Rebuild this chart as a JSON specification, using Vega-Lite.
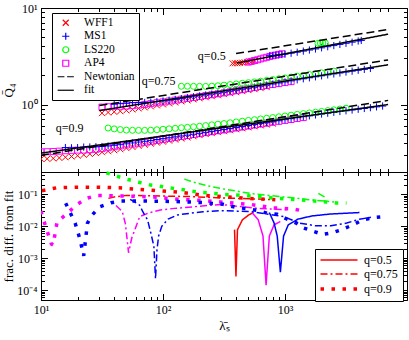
{
"$schema":"https://vega.github.io/schema/vega-lite/v6.json",
"autosize":"none",
"width":366,"height":292,
"padding":{"left":41,"top":8,"right":2,"bottom":40},
"background":"white",
"resolve":{"scale":{"y":"independent","color":"independent","strokeDash":"independent","shape":"independent"},"axis":{"x":"independent","y":"independent"},"legend":{"color":"independent","strokeDash":"independent","shape":"independent"}},
"config":{
 "view":{"stroke":"black","strokeWidth":1},
 "axis":{"grid":false,"domain":false,"tickColor":"black","tickSize":-3.5,"tickWidth":1,"labelFont":"Liberation Serif","labelFontSize":12,"labelColor":"black","titleFont":"Liberation Serif","titleFontSize":13,"titleFontWeight":"normal","titleColor":"black","labelFlush":false,"labelOverlap":false,"labelPadding":7.5}
},
"datasets":{
"pts":[
{"eos":"WFF1","q":"0.9","lam":10,"Q":0.2735},{"eos":"WFF1","q":"0.9","lam":11.22,"Q":0.2742},{"eos":"WFF1","q":"0.9","lam":12.59,"Q":0.2767},{"eos":"WFF1","q":"0.9","lam":14.13,"Q":0.28},{"eos":"WFF1","q":"0.9","lam":15.85,"Q":0.2844},{"eos":"WFF1","q":"0.9","lam":17.78,"Q":0.2897},{"eos":"WFF1","q":"0.9","lam":19.95,"Q":0.2951},{"eos":"WFF1","q":"0.9","lam":22.39,"Q":0.3013},{"eos":"WFF1","q":"0.9","lam":25.12,"Q":0.3076},{"eos":"WFF1","q":"0.9","lam":28.18,"Q":0.314},{"eos":"WFF1","q":"0.9","lam":31.62,"Q":0.3206},{"eos":"WFF1","q":"0.9","lam":35.48,"Q":0.3281},{"eos":"WFF1","q":"0.9","lam":39.81,"Q":0.3365},{"eos":"WFF1","q":"0.9","lam":44.67,"Q":0.3443},{"eos":"WFF1","q":"0.9","lam":50.12,"Q":0.354},{"eos":"WFF1","q":"0.9","lam":56.23,"Q":0.3631},{"eos":"WFF1","q":"0.9","lam":63.1,"Q":0.3733},{"eos":"WFF1","q":"0.9","lam":70.79,"Q":0.3828},{"eos":"WFF1","q":"0.9","lam":79.43,"Q":0.3926},{"eos":"WFF1","q":"0.9","lam":89.13,"Q":0.4027},{"eos":"WFF1","q":"0.9","lam":100,"Q":0.4121},{"eos":"WFF1","q":"0.9","lam":112.2,"Q":0.4227},{"eos":"WFF1","q":"0.9","lam":125.9,"Q":0.4335},{"eos":"WFF1","q":"0.9","lam":141.3,"Q":0.4446},{"eos":"WFF1","q":"0.9","lam":158.5,"Q":0.456},{"eos":"WFF1","q":"0.9","lam":177.8,"Q":0.4688},{"eos":"WFF1","q":"0.9","lam":199.5,"Q":0.482},{"eos":"WFF1","q":"0.9","lam":223.9,"Q":0.4943},{"eos":"WFF1","q":"0.9","lam":251.2,"Q":0.5058},{"eos":"WFF1","q":"0.9","lam":281.8,"Q":0.5176},{"eos":"WFF1","q":"0.9","lam":316.2,"Q":0.5297},{"eos":"WFF1","q":"0.9","lam":354.8,"Q":0.542},{"eos":"WFF1","q":"0.9","lam":398.1,"Q":0.5546},{"eos":"WFF1","q":"0.9","lam":446.7,"Q":0.5675},{"eos":"WFF1","q":"0.9","lam":501.2,"Q":0.5808},{"eos":"WFF1","q":"0.9","lam":562.3,"Q":0.5943},{"eos":"WFF1","q":"0.9","lam":631,"Q":0.6081},{"eos":"WFF1","q":"0.9","lam":707.9,"Q":0.62},{"eos":"WFF1","q":"0.9","lam":794.3,"Q":0.6339},
{"eos":"AP4","q":"0.9","lam":10,"Q":0.3236},{"eos":"AP4","q":"0.9","lam":11.22,"Q":0.3243},{"eos":"AP4","q":"0.9","lam":12.59,"Q":0.3258},{"eos":"AP4","q":"0.9","lam":14.13,"Q":0.3289},{"eos":"AP4","q":"0.9","lam":15.85,"Q":0.3323},{"eos":"AP4","q":"0.9","lam":17.78,"Q":0.3354},{"eos":"AP4","q":"0.9","lam":19.95,"Q":0.3373},{"eos":"AP4","q":"0.9","lam":22.39,"Q":0.3373},{"eos":"AP4","q":"0.9","lam":25.12,"Q":0.3404},{"eos":"AP4","q":"0.9","lam":28.18,"Q":0.3436},{"eos":"AP4","q":"0.9","lam":31.62,"Q":0.3491},{"eos":"AP4","q":"0.9","lam":35.48,"Q":0.3565},{"eos":"AP4","q":"0.9","lam":39.81,"Q":0.3648},{"eos":"AP4","q":"0.9","lam":44.67,"Q":0.3724},{"eos":"AP4","q":"0.9","lam":50.12,"Q":0.3806},{"eos":"AP4","q":"0.9","lam":56.23,"Q":0.389},{"eos":"AP4","q":"0.9","lam":63.1,"Q":0.3976},{"eos":"AP4","q":"0.9","lam":70.79,"Q":0.4058},{"eos":"AP4","q":"0.9","lam":79.43,"Q":0.4153},{"eos":"AP4","q":"0.9","lam":89.13,"Q":0.4249},{"eos":"AP4","q":"0.9","lam":100,"Q":0.4352},{"eos":"AP4","q":"0.9","lam":112.2,"Q":0.4457},{"eos":"AP4","q":"0.9","lam":125.9,"Q":0.4565},{"eos":"AP4","q":"0.9","lam":141.3,"Q":0.4671},{"eos":"AP4","q":"0.9","lam":158.5,"Q":0.4768},{"eos":"AP4","q":"0.9","lam":177.8,"Q":0.4878},{"eos":"AP4","q":"0.9","lam":199.5,"Q":0.4986},{"eos":"AP4","q":"0.9","lam":223.9,"Q":0.5107},{"eos":"AP4","q":"0.9","lam":251.2,"Q":0.5225},{"eos":"AP4","q":"0.9","lam":281.8,"Q":0.5346},{"eos":"AP4","q":"0.9","lam":316.2,"Q":0.5458},{"eos":"AP4","q":"0.9","lam":354.8,"Q":0.5583},{"eos":"AP4","q":"0.9","lam":398.1,"Q":0.5712},{"eos":"AP4","q":"0.9","lam":446.7,"Q":0.5844},{"eos":"AP4","q":"0.9","lam":501.2,"Q":0.5986},{"eos":"AP4","q":"0.9","lam":562.3,"Q":0.6129},{"eos":"AP4","q":"0.9","lam":631,"Q":0.6278},{"eos":"AP4","q":"0.9","lam":707.9,"Q":0.6408},{"eos":"AP4","q":"0.9","lam":794.3,"Q":0.6556},{"eos":"AP4","q":"0.9","lam":891.3,"Q":0.6699},{"eos":"AP4","q":"0.9","lam":1000,"Q":0.6847},{"eos":"AP4","q":"0.9","lam":1122,"Q":0.6998},{"eos":"AP4","q":"0.9","lam":1259,"Q":0.7159},{"eos":"AP4","q":"0.9","lam":1413,"Q":0.7324},
{"eos":"MS1","q":"0.9","lam":15.85,"Q":0.3584},{"eos":"MS1","q":"0.9","lam":17.78,"Q":0.3562},{"eos":"MS1","q":"0.9","lam":19.95,"Q":0.3577},{"eos":"MS1","q":"0.9","lam":22.39,"Q":0.3622},{"eos":"MS1","q":"0.9","lam":25.12,"Q":0.3632},{"eos":"MS1","q":"0.9","lam":28.18,"Q":0.3651},{"eos":"MS1","q":"0.9","lam":31.62,"Q":0.3673},{"eos":"MS1","q":"0.9","lam":35.48,"Q":0.3722},{"eos":"MS1","q":"0.9","lam":39.81,"Q":0.378},{"eos":"MS1","q":"0.9","lam":44.67,"Q":0.3839},{"eos":"MS1","q":"0.9","lam":50.12,"Q":0.3919},{"eos":"MS1","q":"0.9","lam":56.23,"Q":0.4001},{"eos":"MS1","q":"0.9","lam":63.1,"Q":0.4085},{"eos":"MS1","q":"0.9","lam":70.79,"Q":0.416},{"eos":"MS1","q":"0.9","lam":79.43,"Q":0.4248},{"eos":"MS1","q":"0.9","lam":89.13,"Q":0.4342},{"eos":"MS1","q":"0.9","lam":100,"Q":0.4433},{"eos":"MS1","q":"0.9","lam":112.2,"Q":0.453},{"eos":"MS1","q":"0.9","lam":125.9,"Q":0.4625},{"eos":"MS1","q":"0.9","lam":141.3,"Q":0.4727},{"eos":"MS1","q":"0.9","lam":158.5,"Q":0.4819},{"eos":"MS1","q":"0.9","lam":177.8,"Q":0.4926},{"eos":"MS1","q":"0.9","lam":199.5,"Q":0.5035},{"eos":"MS1","q":"0.9","lam":223.9,"Q":0.5151},{"eos":"MS1","q":"0.9","lam":251.2,"Q":0.527},{"eos":"MS1","q":"0.9","lam":281.8,"Q":0.5391},{"eos":"MS1","q":"0.9","lam":316.2,"Q":0.5502},{"eos":"MS1","q":"0.9","lam":354.8,"Q":0.5641},{"eos":"MS1","q":"0.9","lam":398.1,"Q":0.5789},{"eos":"MS1","q":"0.9","lam":446.7,"Q":0.5922},{"eos":"MS1","q":"0.9","lam":501.2,"Q":0.6059},{"eos":"MS1","q":"0.9","lam":562.3,"Q":0.6199},{"eos":"MS1","q":"0.9","lam":631,"Q":0.6349},{"eos":"MS1","q":"0.9","lam":707.9,"Q":0.6494},{"eos":"MS1","q":"0.9","lam":794.3,"Q":0.6637},{"eos":"MS1","q":"0.9","lam":891.3,"Q":0.6789},{"eos":"MS1","q":"0.9","lam":1000,"Q":0.6967},{"eos":"MS1","q":"0.9","lam":1122,"Q":0.7134},{"eos":"MS1","q":"0.9","lam":1259,"Q":0.7307},{"eos":"MS1","q":"0.9","lam":1413,"Q":0.7482},{"eos":"MS1","q":"0.9","lam":1585,"Q":0.7632},{"eos":"MS1","q":"0.9","lam":1778,"Q":0.7801},{"eos":"MS1","q":"0.9","lam":1995,"Q":0.7969},{"eos":"MS1","q":"0.9","lam":2239,"Q":0.8134},{"eos":"MS1","q":"0.9","lam":2512,"Q":0.8301},{"eos":"MS1","q":"0.9","lam":2818,"Q":0.8466},{"eos":"MS1","q":"0.9","lam":3162,"Q":0.8611},{"eos":"MS1","q":"0.9","lam":3548,"Q":0.8774},{"eos":"MS1","q":"0.9","lam":3981,"Q":0.8931},{"eos":"MS1","q":"0.9","lam":4467,"Q":0.9099},{"eos":"MS1","q":"0.9","lam":5012,"Q":0.927},{"eos":"MS1","q":"0.9","lam":5623,"Q":0.9456},{"eos":"MS1","q":"0.9","lam":6310,"Q":0.9643},
{"eos":"LS220","q":"0.9","lam":35.48,"Q":0.5711},{"eos":"LS220","q":"0.9","lam":39.81,"Q":0.5593},{"eos":"LS220","q":"0.9","lam":44.67,"Q":0.5505},{"eos":"LS220","q":"0.9","lam":50.12,"Q":0.543},{"eos":"LS220","q":"0.9","lam":56.23,"Q":0.5408},{"eos":"LS220","q":"0.9","lam":63.1,"Q":0.5399},{"eos":"LS220","q":"0.9","lam":70.79,"Q":0.5398},{"eos":"LS220","q":"0.9","lam":79.43,"Q":0.542},{"eos":"LS220","q":"0.9","lam":89.13,"Q":0.5478},{"eos":"LS220","q":"0.9","lam":100,"Q":0.5546},{"eos":"LS220","q":"0.9","lam":112.2,"Q":0.56},{"eos":"LS220","q":"0.9","lam":125.9,"Q":0.5668},{"eos":"LS220","q":"0.9","lam":141.3,"Q":0.5746},{"eos":"LS220","q":"0.9","lam":158.5,"Q":0.5802},{"eos":"LS220","q":"0.9","lam":177.8,"Q":0.5877},{"eos":"LS220","q":"0.9","lam":199.5,"Q":0.5952},{"eos":"LS220","q":"0.9","lam":223.9,"Q":0.6054},{"eos":"LS220","q":"0.9","lam":251.2,"Q":0.616},{"eos":"LS220","q":"0.9","lam":281.8,"Q":0.626},{"eos":"LS220","q":"0.9","lam":316.2,"Q":0.6353},{"eos":"LS220","q":"0.9","lam":354.8,"Q":0.6474},{"eos":"LS220","q":"0.9","lam":398.1,"Q":0.6598},{"eos":"LS220","q":"0.9","lam":446.7,"Q":0.6723},{"eos":"LS220","q":"0.9","lam":501.2,"Q":0.6845},{"eos":"LS220","q":"0.9","lam":562.3,"Q":0.6969},{"eos":"LS220","q":"0.9","lam":631,"Q":0.7096},{"eos":"LS220","q":"0.9","lam":707.9,"Q":0.7215},{"eos":"LS220","q":"0.9","lam":794.3,"Q":0.7332},{"eos":"LS220","q":"0.9","lam":891.3,"Q":0.7472},{"eos":"LS220","q":"0.9","lam":1000,"Q":0.7614},{"eos":"LS220","q":"0.9","lam":1122,"Q":0.7759},{"eos":"LS220","q":"0.9","lam":1259,"Q":0.7907},{"eos":"LS220","q":"0.9","lam":1413,"Q":0.805},{"eos":"LS220","q":"0.9","lam":1585,"Q":0.8185},{"eos":"LS220","q":"0.9","lam":1778,"Q":0.8331},{"eos":"LS220","q":"0.9","lam":1995,"Q":0.8489},{"eos":"LS220","q":"0.9","lam":2239,"Q":0.8651},{"eos":"LS220","q":"0.9","lam":2512,"Q":0.8816},{"eos":"LS220","q":"0.9","lam":2818,"Q":0.8991},{"eos":"LS220","q":"0.9","lam":3162,"Q":0.9157},
{"eos":"WFF1","q":"0.75","lam":31.62,"Q":0.8145},{"eos":"WFF1","q":"0.75","lam":35.48,"Q":0.8279},{"eos":"WFF1","q":"0.75","lam":39.81,"Q":0.84},{"eos":"WFF1","q":"0.75","lam":44.67,"Q":0.8529},{"eos":"WFF1","q":"0.75","lam":50.12,"Q":0.87},{"eos":"WFF1","q":"0.75","lam":56.23,"Q":0.8902},{"eos":"WFF1","q":"0.75","lam":63.1,"Q":0.911},{"eos":"WFF1","q":"0.75","lam":70.79,"Q":0.933},{"eos":"WFF1","q":"0.75","lam":79.43,"Q":0.957},{"eos":"WFF1","q":"0.75","lam":89.13,"Q":0.9793},{"eos":"WFF1","q":"0.75","lam":100,"Q":1.0032},{"eos":"WFF1","q":"0.75","lam":112.2,"Q":1.0278},{"eos":"WFF1","q":"0.75","lam":125.9,"Q":1.0517},{"eos":"WFF1","q":"0.75","lam":141.3,"Q":1.0787},{"eos":"WFF1","q":"0.75","lam":158.5,"Q":1.1038},{"eos":"WFF1","q":"0.75","lam":177.8,"Q":1.1305},{"eos":"WFF1","q":"0.75","lam":199.5,"Q":1.1592},{"eos":"WFF1","q":"0.75","lam":223.9,"Q":1.1889},{"eos":"WFF1","q":"0.75","lam":251.2,"Q":1.2185},{"eos":"WFF1","q":"0.75","lam":281.8,"Q":1.2489},{"eos":"WFF1","q":"0.75","lam":316.2,"Q":1.2795},{"eos":"WFF1","q":"0.75","lam":354.8,"Q":1.3108},{"eos":"WFF1","q":"0.75","lam":398.1,"Q":1.3428},{"eos":"WFF1","q":"0.75","lam":446.7,"Q":1.3754},{"eos":"WFF1","q":"0.75","lam":501.2,"Q":1.4093},{"eos":"WFF1","q":"0.75","lam":562.3,"Q":1.4434},{"eos":"WFF1","q":"0.75","lam":631,"Q":1.4786},{"eos":"WFF1","q":"0.75","lam":707.9,"Q":1.5148},
{"eos":"AP4","q":"0.75","lam":31.62,"Q":0.9404},{"eos":"AP4","q":"0.75","lam":35.48,"Q":0.9489},{"eos":"AP4","q":"0.75","lam":39.81,"Q":0.9572},{"eos":"AP4","q":"0.75","lam":44.67,"Q":0.9607},{"eos":"AP4","q":"0.75","lam":50.12,"Q":0.964},{"eos":"AP4","q":"0.75","lam":56.23,"Q":0.9736},{"eos":"AP4","q":"0.75","lam":63.1,"Q":0.9842},{"eos":"AP4","q":"0.75","lam":70.79,"Q":1.0021},{"eos":"AP4","q":"0.75","lam":79.43,"Q":1.0224},{"eos":"AP4","q":"0.75","lam":89.13,"Q":1.0428},{"eos":"AP4","q":"0.75","lam":100,"Q":1.0649},{"eos":"AP4","q":"0.75","lam":112.2,"Q":1.0874},{"eos":"AP4","q":"0.75","lam":125.9,"Q":1.1104},{"eos":"AP4","q":"0.75","lam":141.3,"Q":1.1353},{"eos":"AP4","q":"0.75","lam":158.5,"Q":1.1593},{"eos":"AP4","q":"0.75","lam":177.8,"Q":1.1849},{"eos":"AP4","q":"0.75","lam":199.5,"Q":1.21},{"eos":"AP4","q":"0.75","lam":223.9,"Q":1.2367},{"eos":"AP4","q":"0.75","lam":251.2,"Q":1.2629},{"eos":"AP4","q":"0.75","lam":281.8,"Q":1.2912},{"eos":"AP4","q":"0.75","lam":316.2,"Q":1.3197},{"eos":"AP4","q":"0.75","lam":354.8,"Q":1.3532},{"eos":"AP4","q":"0.75","lam":398.1,"Q":1.3875},{"eos":"AP4","q":"0.75","lam":446.7,"Q":1.423},{"eos":"AP4","q":"0.75","lam":501.2,"Q":1.4592},{"eos":"AP4","q":"0.75","lam":562.3,"Q":1.4977},{"eos":"AP4","q":"0.75","lam":631,"Q":1.5346},{"eos":"AP4","q":"0.75","lam":707.9,"Q":1.5718},{"eos":"AP4","q":"0.75","lam":794.3,"Q":1.6102},{"eos":"AP4","q":"0.75","lam":891.3,"Q":1.6477},{"eos":"AP4","q":"0.75","lam":1000,"Q":1.6876},{"eos":"AP4","q":"0.75","lam":1122,"Q":1.7269},
{"eos":"MS1","q":"0.75","lam":39.81,"Q":1.0076},{"eos":"MS1","q":"0.75","lam":44.67,"Q":1.0217},{"eos":"MS1","q":"0.75","lam":50.12,"Q":1.0311},{"eos":"MS1","q":"0.75","lam":56.23,"Q":1.0454},{"eos":"MS1","q":"0.75","lam":63.1,"Q":1.0495},{"eos":"MS1","q":"0.75","lam":70.79,"Q":1.0503},{"eos":"MS1","q":"0.75","lam":79.43,"Q":1.058},{"eos":"MS1","q":"0.75","lam":89.13,"Q":1.073},{"eos":"MS1","q":"0.75","lam":100,"Q":1.0869},{"eos":"MS1","q":"0.75","lam":112.2,"Q":1.1079},{"eos":"MS1","q":"0.75","lam":125.9,"Q":1.129},{"eos":"MS1","q":"0.75","lam":141.3,"Q":1.1516},{"eos":"MS1","q":"0.75","lam":158.5,"Q":1.1773},{"eos":"MS1","q":"0.75","lam":177.8,"Q":1.2023},{"eos":"MS1","q":"0.75","lam":199.5,"Q":1.2292},{"eos":"MS1","q":"0.75","lam":223.9,"Q":1.2564},{"eos":"MS1","q":"0.75","lam":251.2,"Q":1.2844},{"eos":"MS1","q":"0.75","lam":281.8,"Q":1.3127},{"eos":"MS1","q":"0.75","lam":316.2,"Q":1.3432},{"eos":"MS1","q":"0.75","lam":354.8,"Q":1.376},{"eos":"MS1","q":"0.75","lam":398.1,"Q":1.408},{"eos":"MS1","q":"0.75","lam":446.7,"Q":1.4424},{"eos":"MS1","q":"0.75","lam":501.2,"Q":1.476},{"eos":"MS1","q":"0.75","lam":562.3,"Q":1.5121},{"eos":"MS1","q":"0.75","lam":631,"Q":1.5505},{"eos":"MS1","q":"0.75","lam":707.9,"Q":1.5895},{"eos":"MS1","q":"0.75","lam":794.3,"Q":1.6298},{"eos":"MS1","q":"0.75","lam":891.3,"Q":1.6712},{"eos":"MS1","q":"0.75","lam":1000,"Q":1.714},{"eos":"MS1","q":"0.75","lam":1122,"Q":1.7575},{"eos":"MS1","q":"0.75","lam":1259,"Q":1.8037},{"eos":"MS1","q":"0.75","lam":1413,"Q":1.8479},{"eos":"MS1","q":"0.75","lam":1585,"Q":1.8927},{"eos":"MS1","q":"0.75","lam":1778,"Q":1.9377},{"eos":"MS1","q":"0.75","lam":1995,"Q":1.9828},{"eos":"MS1","q":"0.75","lam":2239,"Q":2.029},{"eos":"MS1","q":"0.75","lam":2512,"Q":2.0753},{"eos":"MS1","q":"0.75","lam":2818,"Q":2.1217},{"eos":"MS1","q":"0.75","lam":3162,"Q":2.1691},{"eos":"MS1","q":"0.75","lam":3548,"Q":2.216},{"eos":"MS1","q":"0.75","lam":3981,"Q":2.264},{"eos":"MS1","q":"0.75","lam":4467,"Q":2.3121},{"eos":"MS1","q":"0.75","lam":5012,"Q":2.3637},
{"eos":"LS220","q":"0.75","lam":141.3,"Q":1.5461},{"eos":"LS220","q":"0.75","lam":158.5,"Q":1.5457},{"eos":"LS220","q":"0.75","lam":177.8,"Q":1.5447},{"eos":"LS220","q":"0.75","lam":199.5,"Q":1.5429},{"eos":"LS220","q":"0.75","lam":223.9,"Q":1.5397},{"eos":"LS220","q":"0.75","lam":251.2,"Q":1.5493},{"eos":"LS220","q":"0.75","lam":281.8,"Q":1.5651},{"eos":"LS220","q":"0.75","lam":316.2,"Q":1.5876},{"eos":"LS220","q":"0.75","lam":354.8,"Q":1.6104},{"eos":"LS220","q":"0.75","lam":398.1,"Q":1.6336},{"eos":"LS220","q":"0.75","lam":446.7,"Q":1.6596},{"eos":"LS220","q":"0.75","lam":501.2,"Q":1.6845},{"eos":"LS220","q":"0.75","lam":562.3,"Q":1.7142},{"eos":"LS220","q":"0.75","lam":631,"Q":1.7461},{"eos":"LS220","q":"0.75","lam":707.9,"Q":1.7802},{"eos":"LS220","q":"0.75","lam":794.3,"Q":1.8133},{"eos":"LS220","q":"0.75","lam":891.3,"Q":1.8487},{"eos":"LS220","q":"0.75","lam":1000,"Q":1.8866},{"eos":"LS220","q":"0.75","lam":1122,"Q":1.9252},{"eos":"LS220","q":"0.75","lam":1259,"Q":1.9646},{"eos":"LS220","q":"0.75","lam":1413,"Q":2.003},{"eos":"LS220","q":"0.75","lam":1585,"Q":2.044},{"eos":"LS220","q":"0.75","lam":1778,"Q":2.0863},{"eos":"LS220","q":"0.75","lam":1995,"Q":2.13},{"eos":"LS220","q":"0.75","lam":2239,"Q":2.1736},{"eos":"LS220","q":"0.75","lam":2512,"Q":2.2201},
{"eos":"WFF1","q":"0.5","lam":371.5,"Q":2.672},{"eos":"WFF1","q":"0.5","lam":389,"Q":2.68},{"eos":"WFF1","q":"0.5","lam":407.4,"Q":2.678},{"eos":"WFF1","q":"0.5","lam":426.6,"Q":2.694},{"eos":"WFF1","q":"0.5","lam":446.7,"Q":2.716},{"eos":"WFF1","q":"0.5","lam":467.7,"Q":2.738},{"eos":"WFF1","q":"0.5","lam":489.8,"Q":2.76},{"eos":"WFF1","q":"0.5","lam":512.9,"Q":2.785},{"eos":"WFF1","q":"0.5","lam":537,"Q":2.811},{"eos":"WFF1","q":"0.5","lam":562.3,"Q":2.838},
{"eos":"AP4","q":"0.5","lam":501.2,"Q":2.753},{"eos":"AP4","q":"0.5","lam":530.9,"Q":2.799},{"eos":"AP4","q":"0.5","lam":562.3,"Q":2.856},{"eos":"AP4","q":"0.5","lam":595.7,"Q":2.908},{"eos":"AP4","q":"0.5","lam":631,"Q":2.966},{"eos":"AP4","q":"0.5","lam":668.3,"Q":3.029},{"eos":"AP4","q":"0.5","lam":707.9,"Q":3.086},{"eos":"AP4","q":"0.5","lam":749.9,"Q":3.143},{"eos":"AP4","q":"0.5","lam":794.3,"Q":3.199},{"eos":"AP4","q":"0.5","lam":841.4,"Q":3.253},{"eos":"AP4","q":"0.5","lam":891.3,"Q":3.305},{"eos":"AP4","q":"0.5","lam":944.1,"Q":3.356},
{"eos":"MS1","q":"0.5","lam":749.9,"Q":3.208},{"eos":"MS1","q":"0.5","lam":794.3,"Q":3.224},{"eos":"MS1","q":"0.5","lam":841.4,"Q":3.247},{"eos":"MS1","q":"0.5","lam":891.3,"Q":3.269},{"eos":"MS1","q":"0.5","lam":944.1,"Q":3.293},{"eos":"MS1","q":"0.5","lam":1000,"Q":3.325},{"eos":"MS1","q":"0.5","lam":1122,"Q":3.401},{"eos":"MS1","q":"0.5","lam":1259,"Q":3.486},{"eos":"MS1","q":"0.5","lam":1413,"Q":3.576},{"eos":"MS1","q":"0.5","lam":1585,"Q":3.668},{"eos":"MS1","q":"0.5","lam":1778,"Q":3.765},{"eos":"MS1","q":"0.5","lam":1995,"Q":3.867},{"eos":"MS1","q":"0.5","lam":2239,"Q":3.971},{"eos":"MS1","q":"0.5","lam":2512,"Q":4.079},{"eos":"MS1","q":"0.5","lam":2818,"Q":4.191},{"eos":"MS1","q":"0.5","lam":3162,"Q":4.307},{"eos":"MS1","q":"0.5","lam":3548,"Q":4.426},{"eos":"MS1","q":"0.5","lam":3981,"Q":4.548},{"eos":"MS1","q":"0.5","lam":4217,"Q":4.611},
{"eos":"LS220","q":"0.5","lam":1862,"Q":4.309},{"eos":"LS220","q":"0.5","lam":1950,"Q":4.321},{"eos":"LS220","q":"0.5","lam":2042,"Q":4.338},{"eos":"LS220","q":"0.5","lam":2138,"Q":4.358}
],
"lines":[
{"eos":"Newtonian","q":"0.5","lam":397,"Q":3.37},{"eos":"Newtonian","q":"0.5","lam":7000,"Q":5.98},
{"eos":"Newtonian","q":"0.75","lam":30.1,"Q":0.976},{"eos":"Newtonian","q":"0.75","lam":7000,"Q":2.9},
{"eos":"Newtonian","q":"0.9","lam":10,"Q":0.298},{"eos":"Newtonian","q":"0.9","lam":7000,"Q":1.104},
{"eos":"fit","q":"0.5","lam":403,"Q":2.69},{"eos":"fit","q":"0.5","lam":7000,"Q":5.36},
{"eos":"fit","q":"0.75","lam":30.1,"Q":0.866},{"eos":"fit","q":"0.75","lam":7000,"Q":2.58},
{"eos":"fit","q":"0.9","lam":10,"Q":0.314},{"eos":"fit","q":"0.9","lam":7000,"Q":1.0}
],
"labels":[
{"t":"q=0.5","lam":251,"Q":3.18},{"t":"q=0.75","lam":92.1,"Q":1.773},{"t":"q=0.9","lam":17.2,"Q":0.5707}
],
"fd":[
{"eos":"WFF1","q":"q=0.5","lam":385.8,"fd":0.0079},{"eos":"WFF1","q":"q=0.5","lam":396.3,"fd":0.00027},{"eos":"WFF1","q":"q=0.5","lam":407.9,"fd":0.0079},{"eos":"WFF1","q":"q=0.5","lam":447.7,"fd":0.016},{"eos":"WFF1","q":"q=0.5","lam":504.7,"fd":0.0228},{"eos":"WFF1","q":"q=0.5","lam":552,"fd":0.027},
{"eos":"AP4","q":"q=0.5","lam":535.5,"fd":0.027},{"eos":"AP4","q":"q=0.5","lam":603.6,"fd":0.016},{"eos":"AP4","q":"q=0.5","lam":660.1,"fd":0.005},{"eos":"AP4","q":"q=0.5","lam":699.8,"fd":0.000145},{"eos":"AP4","q":"q=0.5","lam":744.2,"fd":0.005},{"eos":"AP4","q":"q=0.5","lam":814,"fd":0.0112},{"eos":"AP4","q":"q=0.5","lam":916.2,"fd":0.0142},
{"eos":"MS1","q":"q=0.5","lam":744.2,"fd":0.027},{"eos":"MS1","q":"q=0.5","lam":814,"fd":0.0127},{"eos":"MS1","q":"q=0.5","lam":863.4,"fd":0.005},{"eos":"MS1","q":"q=0.5","lam":916.2,"fd":0.00037},{"eos":"MS1","q":"q=0.5","lam":973.4,"fd":0.005},{"eos":"MS1","q":"q=0.5","lam":1064.6,"fd":0.0112},{"eos":"MS1","q":"q=0.5","lam":1274,"fd":0.0168},{"eos":"MS1","q":"q=0.5","lam":1666,"fd":0.0212},{"eos":"MS1","q":"q=0.5","lam":2382,"fd":0.0244},{"eos":"MS1","q":"q=0.5","lam":4077,"fd":0.027},
{"eos":"LS220","q":"q=0.5","lam":1875,"fd":0.107},{"eos":"LS220","q":"q=0.5","lam":2113,"fd":0.083},
{"eos":"WFF1","q":"q=0.75","lam":35.66,"fd":0.075},{"eos":"WFF1","q":"q=0.75","lam":41.15,"fd":0.085},{"eos":"WFF1","q":"q=0.75","lam":51,"fd":0.093},{"eos":"WFF1","q":"q=0.75","lam":84.2,"fd":0.09},{"eos":"WFF1","q":"q=0.75","lam":172.4,"fd":0.085},{"eos":"WFF1","q":"q=0.75","lam":305.7,"fd":0.077},{"eos":"WFF1","q":"q=0.75","lam":504.7,"fd":0.073},{"eos":"WFF1","q":"q=0.75","lam":789.6,"fd":0.069},
{"eos":"AP4","q":"q=0.75","lam":41.15,"fd":0.045},{"eos":"AP4","q":"q=0.75","lam":46.4,"fd":0.029},{"eos":"AP4","q":"q=0.75","lam":49.2,"fd":0.012},{"eos":"AP4","q":"q=0.75","lam":52.2,"fd":0.0015},{"eos":"AP4","q":"q=0.75","lam":55.5,"fd":0.0044},{"eos":"AP4","q":"q=0.75","lam":64.4,"fd":0.0201},{"eos":"AP4","q":"q=0.75","lam":77,"fd":0.0267},{"eos":"AP4","q":"q=0.75","lam":94.9,"fd":0.0324},{"eos":"AP4","q":"q=0.75","lam":124.2,"fd":0.0365},{"eos":"AP4","q":"q=0.75","lam":177.7,"fd":0.041},{"eos":"AP4","q":"q=0.75","lam":254.2,"fd":0.046},{"eos":"AP4","q":"q=0.75","lam":304.1,"fd":0.048},{"eos":"AP4","q":"q=0.75","lam":603.6,"fd":0.0365},{"eos":"AP4","q":"q=0.75","lam":1033,"fd":0.033},
{"eos":"MS1","q":"q=0.75","lam":53.8,"fd":0.07},{"eos":"MS1","q":"q=0.75","lam":64.4,"fd":0.046},{"eos":"MS1","q":"q=0.75","lam":68.3,"fd":0.0287},{"eos":"MS1","q":"q=0.75","lam":74.7,"fd":0.016},{"eos":"MS1","q":"q=0.75","lam":79.4,"fd":0.0063},{"eos":"MS1","q":"q=0.75","lam":84.2,"fd":0.0024},{"eos":"MS1","q":"q=0.75","lam":86.8,"fd":0.00023},{"eos":"MS1","q":"q=0.75","lam":89.3,"fd":0.0019},{"eos":"MS1","q":"q=0.75","lam":92.1,"fd":0.005},{"eos":"MS1","q":"q=0.75","lam":97.7,"fd":0.01},{"eos":"MS1","q":"q=0.75","lam":110.2,"fd":0.0168},{"eos":"MS1","q":"q=0.75","lam":131.8,"fd":0.0228},{"eos":"MS1","q":"q=0.75","lam":167.2,"fd":0.0256},{"eos":"MS1","q":"q=0.75","lam":212.6,"fd":0.0287},{"eos":"MS1","q":"q=0.75","lam":295,"fd":0.031},{"eos":"MS1","q":"q=0.75","lam":535.5,"fd":0.0287},{"eos":"MS1","q":"q=0.75","lam":973.4,"fd":0.0202},{"eos":"MS1","q":"q=0.75","lam":1310,"fd":0.0127},{"eos":"MS1","q":"q=0.75","lam":1767,"fd":0.0105},{"eos":"MS1","q":"q=0.75","lam":2382,"fd":0.0105},{"eos":"MS1","q":"q=0.75","lam":3208,"fd":0.0127},{"eos":"MS1","q":"q=0.75","lam":4077,"fd":0.0168},{"eos":"MS1","q":"q=0.75","lam":5174,"fd":0.0194},
{"eos":"LS220","q":"q=0.75","lam":149.4,"fd":0.3},{"eos":"LS220","q":"q=0.75","lam":172.4,"fd":0.25},{"eos":"LS220","q":"q=0.75","lam":225.4,"fd":0.19},{"eos":"LS220","q":"q=0.75","lam":305.7,"fd":0.15},{"eos":"LS220","q":"q=0.75","lam":532.5,"fd":0.105},{"eos":"LS220","q":"q=0.75","lam":978.8,"fd":0.083},{"eos":"LS220","q":"q=0.75","lam":1767,"fd":0.0655},{"eos":"LS220","q":"q=0.75","lam":2528,"fd":0.058},
{"eos":"WFF1","q":"q=0.9","lam":10.18,"fd":0.13},{"eos":"WFF1","q":"q=0.9","lam":13.32,"fd":0.16},{"eos":"WFF1","q":"q=0.9","lam":19.75,"fd":0.168},{"eos":"WFF1","q":"q=0.9","lam":29.29,"fd":0.168},{"eos":"WFF1","q":"q=0.9","lam":43.42,"fd":0.16},{"eos":"WFF1","q":"q=0.9","lam":64.4,"fd":0.142},{"eos":"WFF1","q":"q=0.9","lam":97.2,"fd":0.128},{"eos":"WFF1","q":"q=0.9","lam":141.6,"fd":0.115},{"eos":"WFF1","q":"q=0.9","lam":209.9,"fd":0.095},{"eos":"WFF1","q":"q=0.9","lam":305.7,"fd":0.085},{"eos":"WFF1","q":"q=0.9","lam":445.2,"fd":0.077},{"eos":"WFF1","q":"q=0.9","lam":684.1,"fd":0.07},{"eos":"WFF1","q":"q=0.9","lam":833.1,"fd":0.068},
{"eos":"AP4","q":"q=0.9","lam":10,"fd":0.03},{"eos":"AP4","q":"q=0.9","lam":10.55,"fd":0.015},{"eos":"AP4","q":"q=0.9","lam":11.19,"fd":0.0074},{"eos":"AP4","q":"q=0.9","lam":12.18,"fd":0.0028},{"eos":"AP4","q":"q=0.9","lam":12.56,"fd":0.0026},{"eos":"AP4","q":"q=0.9","lam":13.56,"fd":0.0139},{"eos":"AP4","q":"q=0.9","lam":16.22,"fd":0.0244},{"eos":"AP4","q":"q=0.9","lam":19.4,"fd":0.046},{"eos":"AP4","q":"q=0.9","lam":23.62,"fd":0.075},{"eos":"AP4","q":"q=0.9","lam":28.77,"fd":0.093},{"eos":"AP4","q":"q=0.9","lam":41.15,"fd":0.09},{"eos":"AP4","q":"q=0.9","lam":61,"fd":0.087},{"eos":"AP4","q":"q=0.9","lam":90.5,"fd":0.081},{"eos":"AP4","q":"q=0.9","lam":134.1,"fd":0.07},{"eos":"AP4","q":"q=0.9","lam":198.9,"fd":0.0655},{"eos":"AP4","q":"q=0.9","lam":295,"fd":0.058},{"eos":"AP4","q":"q=0.9","lam":532.5,"fd":0.048},{"eos":"AP4","q":"q=0.9","lam":789.6,"fd":0.038},{"eos":"AP4","q":"q=0.9","lam":1171,"fd":0.035},{"eos":"AP4","q":"q=0.9","lam":1426,"fd":0.03},
{"eos":"MS1","q":"q=0.9","lam":15.93,"fd":0.053},{"eos":"MS1","q":"q=0.9","lam":19.05,"fd":0.0127},{"eos":"MS1","q":"q=0.9","lam":20.84,"fd":0.004},{"eos":"MS1","q":"q=0.9","lam":22.38,"fd":0.0012},{"eos":"MS1","q":"q=0.9","lam":24.04,"fd":0.0127},{"eos":"MS1","q":"q=0.9","lam":26.3,"fd":0.0228},{"eos":"MS1","q":"q=0.9","lam":30.35,"fd":0.041},{"eos":"MS1","q":"q=0.9","lam":37.62,"fd":0.055},{"eos":"MS1","q":"q=0.9","lam":45,"fd":0.062},{"eos":"MS1","q":"q=0.9","lam":66.7,"fd":0.062},{"eos":"MS1","q":"q=0.9","lam":97.2,"fd":0.061},{"eos":"MS1","q":"q=0.9","lam":144.1,"fd":0.059},{"eos":"MS1","q":"q=0.9","lam":213.7,"fd":0.055},{"eos":"MS1","q":"q=0.9","lam":311.2,"fd":0.049},{"eos":"MS1","q":"q=0.9","lam":399.9,"fd":0.039},{"eos":"MS1","q":"q=0.9","lam":486.9,"fd":0.036},{"eos":"MS1","q":"q=0.9","lam":603.6,"fd":0.031},{"eos":"MS1","q":"q=0.9","lam":722,"fd":0.0255},{"eos":"MS1","q":"q=0.9","lam":863.4,"fd":0.024},{"eos":"MS1","q":"q=0.9","lam":1033,"fd":0.017},{"eos":"MS1","q":"q=0.9","lam":1236,"fd":0.0127},{"eos":"MS1","q":"q=0.9","lam":1426,"fd":0.0089},{"eos":"MS1","q":"q=0.9","lam":1705,"fd":0.007},{"eos":"MS1","q":"q=0.9","lam":2040,"fd":0.0056},{"eos":"MS1","q":"q=0.9","lam":2439,"fd":0.0063},{"eos":"MS1","q":"q=0.9","lam":2917,"fd":0.0079},{"eos":"MS1","q":"q=0.9","lam":3617,"fd":0.0112},{"eos":"MS1","q":"q=0.9","lam":4326,"fd":0.016},{"eos":"MS1","q":"q=0.9","lam":5364,"fd":0.0188},{"eos":"MS1","q":"q=0.9","lam":6416,"fd":0.02},
{"eos":"LS220","q":"q=0.9","lam":34.4,"fd":0.47},{"eos":"LS220","q":"q=0.9","lam":43.42,"fd":0.355},{"eos":"LS220","q":"q=0.9","lam":51.9,"fd":0.29},{"eos":"LS220","q":"q=0.9","lam":63.2,"fd":0.24},{"eos":"LS220","q":"q=0.9","lam":77,"fd":0.2},{"eos":"LS220","q":"q=0.9","lam":93.8,"fd":0.18},{"eos":"LS220","q":"q=0.9","lam":114.2,"fd":0.16},{"eos":"LS220","q":"q=0.9","lam":139,"fd":0.145},{"eos":"LS220","q":"q=0.9","lam":166.3,"fd":0.13},{"eos":"LS220","q":"q=0.9","lam":202.5,"fd":0.115},{"eos":"LS220","q":"q=0.9","lam":246.6,"fd":0.11},{"eos":"LS220","q":"q=0.9","lam":305.7,"fd":0.1},{"eos":"LS220","q":"q=0.9","lam":372.2,"fd":0.097},{"eos":"LS220","q":"q=0.9","lam":445.2,"fd":0.093},{"eos":"LS220","q":"q=0.9","lam":552,"fd":0.087},{"eos":"LS220","q":"q=0.9","lam":684.1,"fd":0.083},{"eos":"LS220","q":"q=0.9","lam":833.1,"fd":0.075},{"eos":"LS220","q":"q=0.9","lam":996.3,"fd":0.073},{"eos":"LS220","q":"q=0.9","lam":1236,"fd":0.069},{"eos":"LS220","q":"q=0.9","lam":1477,"fd":0.0655},{"eos":"LS220","q":"q=0.9","lam":1831,"fd":0.061},{"eos":"LS220","q":"q=0.9","lam":2191,"fd":0.058},{"eos":"LS220","q":"q=0.9","lam":2620,"fd":0.054},{"eos":"LS220","q":"q=0.9","lam":3190,"fd":0.054}
]
},
"layer":[
  {
   "data":{"name":"pts"},
   "mark":{"type":"point","filled":false,"size":36,"strokeWidth":1,"opacity":1,"clip":true},
   "encoding":{
    "x":{"field":"lam","type":"quantitative","scale":{"type":"log","domain":[10,7000]},"axis":{"orient":"bottom","offset":-128,"domain":true,"domainColor":"black","domainWidth":1,"values":[10,20,30,40,50,60,70,80,90,100,200,300,400,500,600,700,800,900,1000,2000,3000,4000,5000,6000,7000],"labels":false,"title":null}},
    "y":{"field":"Q","type":"quantitative","scale":{"type":"log","domain":[0.2,10],"range":[164,0]},"axis":{"orient":"left","values":[0.2,0.3,0.4,0.5,0.6,0.7,0.8,0.9,1,2,3,4,5,6,7,8,9,10],"labelExpr":"datum.value==1?'10⁰':datum.value==10?'10¹':''","title":"Q̄₄","titleX":-26}},
    "color":{"field":"eos","type":"nominal","scale":{"domain":["WFF1","MS1","LS220","AP4","Newtonian","fit"],"range":["#ff0000","#0000ff","#00ff00","#ff00ff","#000000","#000000"]},
     "legend":{"title":null,"orient":"none","legendX":11,"legendY":5,"strokeColor":"black","fillColor":"white","padding":4,"symbolSize":36,"symbolStrokeWidth":1.2,"symbolOffset":4,"labelOffset":12.6,"labelFont":"Liberation Serif","labelFontSize":11.5,"labelColor":"black","rowPadding":0.5,
      "encode":{"symbols":{"update":{"strokeWidth":{"signal":"datum.value=='Newtonian'||datum.value=='fit'?1.6:1.1"}}}}}},
    "shape":{"field":"eos","type":"nominal","scale":{"domain":["WFF1","MS1","LS220","AP4","Newtonian","fit"],"range":["M-1,-1L1,1M-1,1L1,-1","M-1.2,0H1.2M0,-1.2V1.2","circle","square","M-2.7,0H-0.45M0.45,0H2.7","M-2.7,0H2.7"]},
     "legend":{"title":null,"orient":"none","legendX":11,"legendY":5,"strokeColor":"black","fillColor":"white","padding":4,"symbolSize":36,"symbolStrokeWidth":1.2,"symbolOffset":4,"labelOffset":12.6,"labelFont":"Liberation Serif","labelFontSize":11.5,"labelColor":"black","rowPadding":0.5,
      "encode":{"symbols":{"update":{"strokeWidth":{"signal":"datum.value=='Newtonian'||datum.value=='fit'?1.6:1.1"}}}}}}
   }
  },
  {
   "data":{"name":"lines"},
   "mark":{"type":"line","strokeWidth":1.5,"clip":true,"color":"black"},
   "encoding":{
    "x":{"field":"lam","type":"quantitative","axis":null},
    "y":{"field":"Q","type":"quantitative","scale":{"type":"log","domain":[0.2,10],"range":[164,0]},"axis":null},
    "strokeDash":{"field":"eos","type":"nominal","scale":{"domain":["Newtonian","fit"],"range":[[8,4],[1,0]]},"legend":null},
    "detail":{"field":"q"}
   }
  },
  {
   "data":{"name":"labels"},
   "mark":{"type":"text","font":"Liberation Serif","fontSize":12,"color":"black"},
   "encoding":{
    "x":{"field":"lam","type":"quantitative","axis":null},
    "y":{"field":"Q","type":"quantitative","scale":{"type":"log","domain":[0.2,10],"range":[164,0]},"axis":null},
    "text":{"field":"t"}
   }
  },
  {
   "data":{"name":"lines"},
   "mark":{"type":"point","opacity":0},
   "encoding":{
    "x":{"field":"lam","type":"quantitative","axis":{"orient":"top","values":[10,20,30,40,50,60,70,80,90,100,200,300,400,500,600,700,800,900,1000,2000,3000,4000,5000,6000,7000],"labels":false,"title":null}},
    "y":{"field":"Q","type":"quantitative","scale":{"type":"log","domain":[0.2,10],"range":[164,0]},"axis":{"orient":"right","values":[0.2,0.3,0.4,0.5,0.6,0.7,0.8,0.9,1,2,3,4,5,6,7,8,9,10],"labels":false,"title":null}}
   }
  },
  {
   "data":{"name":"lines"},
   "mark":{"type":"point","opacity":0},
   "encoding":{
    "x":{"field":"lam","type":"quantitative","axis":{"orient":"bottom","offset":-128,"tickSize":-6.5,"values":[10,100,1000],"labels":false,"title":null}},
    "y":{"field":"Q","type":"quantitative","scale":{"type":"log","domain":[0.2,10],"range":[164,0]},"axis":{"orient":"left","tickSize":-6.5,"values":[1,10],"labels":false,"title":null}}
   }
  },
  {
   "data":{"name":"lines"},
   "mark":{"type":"point","opacity":0},
   "encoding":{
    "x":{"field":"lam","type":"quantitative","axis":{"orient":"top","tickSize":-6.5,"values":[10,100,1000],"labels":false,"title":null}},
    "y":{"field":"Q","type":"quantitative","scale":{"type":"log","domain":[0.2,10],"range":[164,0]},"axis":{"orient":"right","tickSize":-6.5,"values":[1,10],"labels":false,"title":null}}
   }
  },
  {
   "data":{"name":"fd"},
   "mark":{"type":"line","clip":true,"strokeCap":"butt"},
   "encoding":{
    "x":{"field":"lam","type":"quantitative","axis":{"orient":"bottom","values":[10,20,30,40,50,60,70,80,90,100,200,300,400,500,600,700,800,900,1000,2000,3000,4000,5000,6000,7000],"labelExpr":"datum.value==10?'10¹':datum.value==100?'10²':datum.value==1000?'10³':''","title":"λ̄ₛ","titlePadding":4}},
    "y":{"field":"fd","type":"quantitative","scale":{"type":"log","domain":[0.00005,0.5],"range":[292,164]},"axis":{"orient":"left","values":[0.00005,0.00006,0.00007,0.00008,0.00009,0.0001,0.0002,0.0003,0.0004,0.0005,0.0006,0.0007,0.0008,0.0009,0.001,0.002,0.003,0.004,0.005,0.006,0.007,0.008,0.009,0.01,0.02,0.03,0.04,0.05,0.06,0.07,0.08,0.09,0.1,0.2,0.3,0.4,0.5],"labelExpr":"datum.value==0.0001?'10⁻⁴':datum.value==0.001?'10⁻³':datum.value==0.01?'10⁻²':datum.value==0.1?'10⁻¹':''","title":"frac. diff. from fit","titleX":-26}},
    "color":{"field":"eos","type":"nominal","scale":{"domain":["WFF1","MS1","LS220","AP4"],"range":["#ff0000","#0000ff","#00ff00","#ff00ff"]},"legend":null},
    "strokeDash":{"field":"q","type":"nominal","scale":{"domain":["q=0.5","q=0.75","q=0.9"],"range":[[1,0],[7,3,2,3],[3.5,7.5]]},
     "legend":{"title":null,"orient":"none","legendX":274,"legendY":241,"strokeColor":"black","fillColor":"white","padding":5,"symbolType":"M-3.7,0H3.7","symbolSize":100,"symbolStrokeColor":"#ff0000","symbolOffset":13,"labelOffset":19,"labelFont":"Liberation Serif","labelFontSize":12,"labelColor":"black","rowPadding":2,
      "encode":{"symbols":{"update":{"strokeWidth":{"signal":"datum.value=='q=0.9'?3.5:1.5"},"strokeDash":{"signal":"datum.value=='q=0.5'?[1,0]:datum.value=='q=0.75'?[7,3,2,3]:[3.5,7.5]"},"stroke":{"value":"#ff0000"}}}}}},
    "strokeWidth":{"condition":{"test":"datum.q=='q=0.9'","value":3.5},"value":1.5},
    "detail":{"field":"eos"}
   }
  },
  {
   "data":{"name":"fd"},
   "mark":{"type":"point","opacity":0},
   "encoding":{
    "x":{"field":"lam","type":"quantitative","axis":{"orient":"top","offset":-164,"values":[10,20,30,40,50,60,70,80,90,100,200,300,400,500,600,700,800,900,1000,2000,3000,4000,5000,6000,7000],"labels":false,"title":null}},
    "y":{"field":"fd","type":"quantitative","scale":{"type":"log","domain":[0.00005,0.5],"range":[292,164]},"axis":{"orient":"right","values":[0.00005,0.00006,0.00007,0.00008,0.00009,0.0001,0.0002,0.0003,0.0004,0.0005,0.0006,0.0007,0.0008,0.0009,0.001,0.002,0.003,0.004,0.005,0.006,0.007,0.008,0.009,0.01,0.02,0.03,0.04,0.05,0.06,0.07,0.08,0.09,0.1,0.2,0.3,0.4,0.5],"labels":false,"title":null}}
   }
  },
  {
   "data":{"name":"fd"},
   "mark":{"type":"point","opacity":0},
   "encoding":{
    "x":{"field":"lam","type":"quantitative","axis":{"orient":"bottom","tickSize":-6.5,"values":[10,100,1000],"labels":false,"title":null}},
    "y":{"field":"fd","type":"quantitative","scale":{"type":"log","domain":[0.00005,0.5],"range":[292,164]},"axis":{"orient":"left","tickSize":-6.5,"values":[0.0001,0.001,0.01,0.1],"labels":false,"title":null}}
   }
  },
  {
   "data":{"name":"fd"},
   "mark":{"type":"point","opacity":0},
   "encoding":{
    "x":{"field":"lam","type":"quantitative","axis":{"orient":"top","offset":-164,"tickSize":-6.5,"values":[10,100,1000],"labels":false,"title":null}},
    "y":{"field":"fd","type":"quantitative","scale":{"type":"log","domain":[0.00005,0.5],"range":[292,164]},"axis":{"orient":"right","tickSize":-6.5,"values":[0.0001,0.001,0.01,0.1],"labels":false,"title":null}}
   }
  }
]
}
